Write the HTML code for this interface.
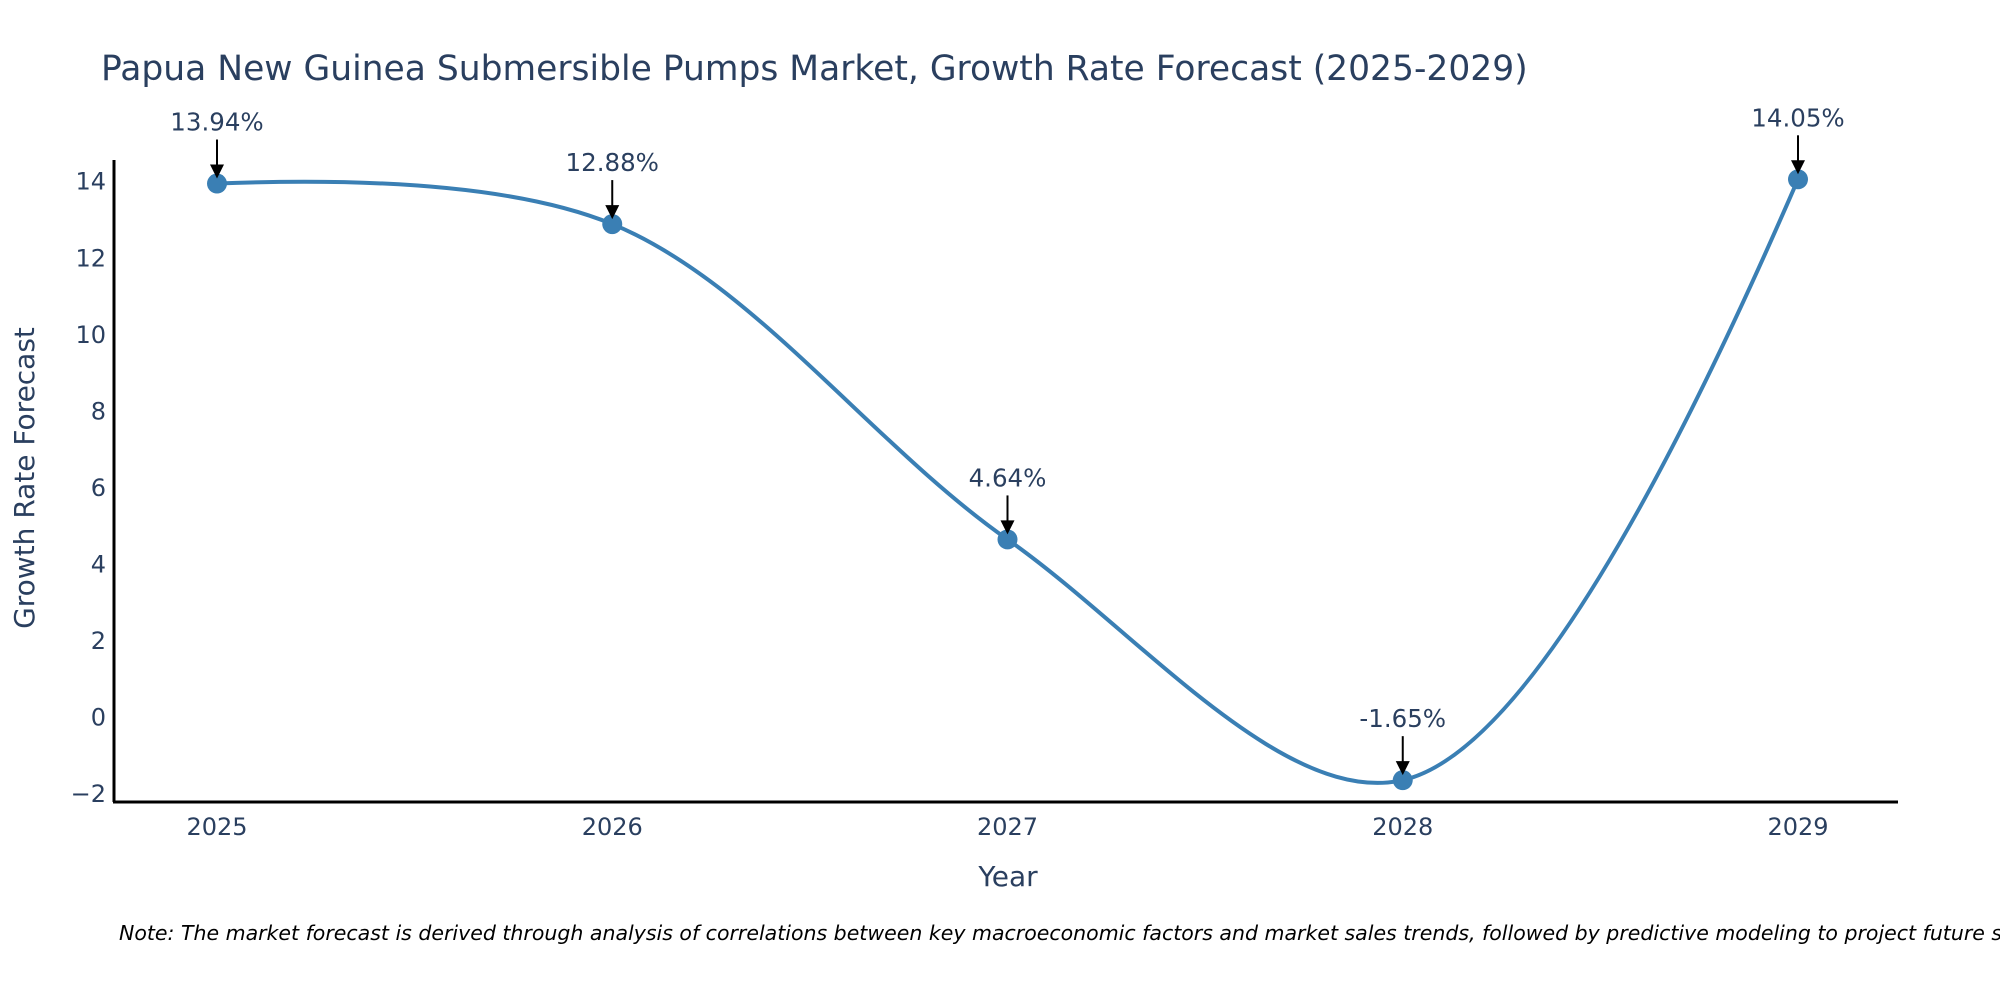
<!DOCTYPE html>
<html><head><meta charset="utf-8"><style>
html,body{margin:0;padding:0;background:#fff;}
svg{display:block;font-family:"DejaVu Sans","Liberation Sans",sans-serif;}
</style></head><body>
<svg id="chart" width="2000" height="1000" viewBox="0 0 2000 1000">
<text x="101" y="80" font-size="34.5" fill="#2a3f5f">Papua New Guinea Submersible Pumps Market, Growth Rate Forecast (2025-2029)</text>
<g id="yticks"></g>
<g id="xticks"></g>
<line x1="114" y1="160" x2="114" y2="802" stroke="#000" stroke-width="3"/>
<line x1="113" y1="802" x2="1898" y2="802" stroke="#000" stroke-width="3"/>
<path id="line" fill="none" stroke="#3a7fb4" stroke-width="4"/>
<g id="marks"></g>
<g id="annots"></g>
<text x="1008" y="886" font-size="28" fill="#2a3f5f" text-anchor="middle">Year</text>
<text transform="translate(34,478) rotate(-90)" font-size="28" fill="#2a3f5f" text-anchor="middle">Growth Rate Forecast</text>
<text x="119" y="940" font-size="20.5" font-style="italic" fill="#000">Note: The market forecast is derived through analysis of correlations between key macroeconomic factors and market sales trends, followed by predictive modeling to project future sales.</text>
</svg>
<script>
const years = [2025, 2026, 2027, 2028, 2029];
const values = [13.94, 12.88, 4.64, -1.65, 14.05];
const labels = ["13.94%", "12.88%", "4.64%", "-1.65%", "14.05%"];
const yTickValues = [-2, 0, 2, 4, 6, 8, 10, 12, 14];

const NS = "http://www.w3.org/2000/svg";
function xs(yr){ return 217 + (yr - 2025) * 395.25; }
function ys(v){ return 717 - v * 38.27; }
function mk(tag, attrs, parent){ const e=document.createElementNS(NS,tag); for(const k in attrs) e.setAttribute(k,attrs[k]); parent.appendChild(e); return e; }

const yt=document.getElementById('yticks');
yTickValues.forEach(v=>{
  const t=mk('text',{x:106,y:ys(v)+8.5,'font-size':24,fill:'#2a3f5f','text-anchor':'end'},yt);
  t.textContent = v<0 ? '\u2212'+Math.abs(v) : String(v);
  
  
});
const xt=document.getElementById('xticks');
years.forEach(yr=>{
  const t=mk('text',{x:xs(yr),y:835,'font-size':24,fill:'#2a3f5f','text-anchor':'middle'},xt);
  t.textContent=String(yr);
  
  
});

const pts = years.map((yr,i)=>[xs(yr), ys(values[i])]);
function tangent(a,b,c){
  const d1x=a[0]-b[0], d1y=a[1]-b[1], d2x=c[0]-b[0], d2y=c[1]-b[1];
  const d1a=Math.pow(d1x*d1x+d1y*d1y,0.25), d2a=Math.pow(d2x*d2x+d2y*d2y,0.25);
  const nx=(d2a*d2a*d1x-d1a*d1a*d2x), ny=(d2a*d2a*d1y-d1a*d1a*d2y);
  const den1=3*d2a*(d1a+d2a), den2=3*d1a*(d1a+d2a);
  return [[b[0]+nx/den1,b[1]+ny/den1],[b[0]-nx/den2,b[1]-ny/den2]];
}
const tans=[];
for(let i=1;i<pts.length-1;i++) tans.push(tangent(pts[i-1],pts[i],pts[i+1]));
let d=`M${pts[0]} Q${tans[0][0]} ${pts[1]}`;
for(let i=2;i<pts.length-1;i++) d+=` C${tans[i-2][1]} ${tans[i-1][0]} ${pts[i]}`;
d+=` Q${tans[tans.length-1][1]} ${pts[pts.length-1]}`;
document.getElementById('line').setAttribute('d', d);

const mg=document.getElementById('marks'), ag=document.getElementById('annots');
pts.forEach((p,i)=>{
  const c=mk('circle',{cx:p[0],cy:p[1],r:10,fill:'#3a7fb4'},mg);
  
  
  const l=mk('line',{x1:p[0],y1:p[1]-44,x2:p[0],y2:p[1]-16,stroke:'#000','stroke-width':2},ag);
  
  
  const h=mk('polygon',{points:`${p[0]-7},${p[1]-19} ${p[0]+7},${p[1]-19} ${p[0]},${p[1]-5}`,fill:'#000'},ag);
  
  
  const t=mk('text',{x:p[0],y:p[1]-53,'font-size':24.5,fill:'#2a3f5f','text-anchor':'middle'},ag);
  t.textContent=labels[i];
  
  
});
</script>
</body></html>
